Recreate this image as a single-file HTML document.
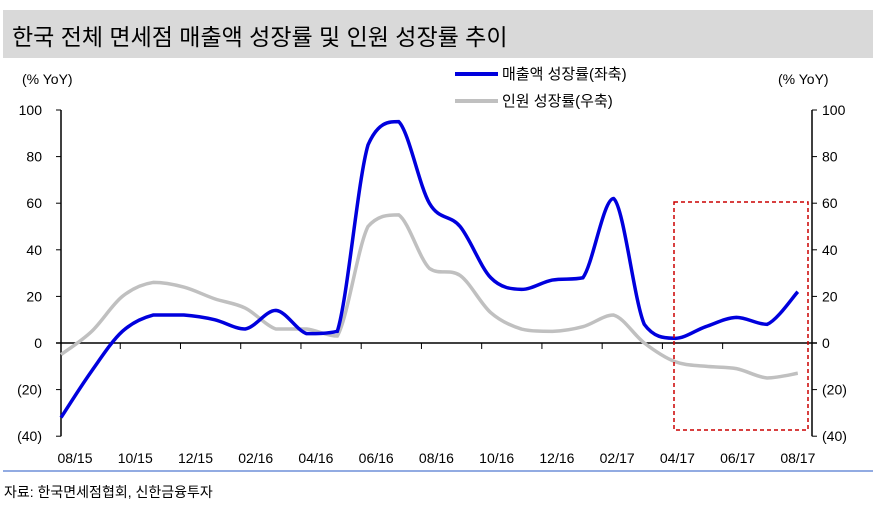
<!DOCTYPE html>
<html><head><meta charset="utf-8"><style>
body{margin:0;background:#fff;width:876px;height:506px;overflow:hidden;font-family:"Liberation Sans","Noto Sans CJK KR",sans-serif;}
</style></head><body>
<svg width="876" height="506" style="position:absolute;left:0;top:0;font-family:'Liberation Sans','Noto Sans CJK KR',sans-serif">
<rect x="3" y="10" width="870" height="48" fill="#d9d9d9"/>
<text x="12" y="45" font-size="23" fill="#000">한국 전체 면세점 매출액 성장률 및 인원 성장률 추이</text>
<text x="22" y="84" font-size="14">(% YoY)</text>
<text x="778" y="84" font-size="14">(% YoY)</text>
<line x1="455" y1="74" x2="498" y2="74" stroke="#0000dd" stroke-width="4"/>
<text x="502" y="79" font-size="15">매출액 성장률(좌축)</text>
<line x1="455" y1="101" x2="498" y2="101" stroke="#c0c0c0" stroke-width="4"/>
<text x="502" y="106" font-size="15">인원 성장률(우축)</text>
<g id="axes"></g>
<g id="series"></g>
<rect x="674" y="202" width="134" height="228" fill="none" stroke="#cc0000" stroke-width="1.5" stroke-dasharray="4,3"/>
<line x1="3" y1="471" x2="873" y2="471" stroke="#6f8fd8" stroke-width="1.5"/>
<text x="4" y="497" font-size="14">자료: 한국면세점협회, 신한금융투자</text>
</svg>
<script>
const months=["08/15","09/15","10/15","11/15","12/15","01/16","02/16","03/16","04/16","05/16","06/16","07/16","08/16","09/16","10/16","11/16","12/16","01/17","02/17","03/17","04/17","05/17","06/17","07/17","08/17"];
const salesGrowth=[-32,-12,5,12,12,10,6,14,4,5,85,95,60,50,28,23,27,28,62,8,2,7,11,8,22];
const visitorGrowth=[-5,5,20,26,24,19,15,6,6,3,50,55,32,29,13,6,5,7,12,0,-8,-10,-11,-15,-13];
const yTicks=[100,80,60,40,20,0,-20,-40];
const yTickLabels=["100","80","60","40","20","0","(20)","(40)"];
const NS="http://www.w3.org/2000/svg";
const x=i=>61+i*30.7;
const y=v=>343-v*2.33;
const lx=i=>75+i*30.12;
function el(t,a,p){const e=document.createElementNS(NS,t);for(const k in a)e.setAttribute(k,a[k]);p.appendChild(e);return e;}
const ax=document.getElementById('axes'),se=document.getElementById('series');
let e=el('line',{x1:61,y1:y(100),x2:61,y2:y(-40),stroke:'#000','stroke-width':1.5},ax);


e=el('line',{x1:812,y1:y(100),x2:812,y2:y(-40),stroke:'#000','stroke-width':1.5},ax);


e=el('line',{x1:56,y1:y(0),x2:817,y2:y(0),stroke:'#000','stroke-width':1.5},ax);


yTicks.forEach((v,i)=>{
 el('line',{x1:56,y1:y(v),x2:61,y2:y(v),stroke:'#000'},ax);
 el('line',{x1:812,y1:y(v),x2:817,y2:y(v),stroke:'#000'},ax);
 let t=el('text',{x:42,y:y(v)+5,'font-size':14,'text-anchor':'end'},ax);t.textContent=yTickLabels[i];
 
 
 t=el('text',{x:822,y:y(v)+5,'font-size':14},ax);t.textContent=yTickLabels[i];
 
 
});
months.forEach((m,i)=>{
 if(i%2==0){
  if(i>0&&i<24) el('line',{x1:lx(i)-15,y1:y(0),x2:lx(i)-15,y2:y(0)+6,stroke:'#000'},ax);
  const t=el('text',{x:lx(i),y:463,'font-size':14,'text-anchor':'middle'},ax);t.textContent=m;
  
  
 }
});
function clamp(v,a,b){const lo=Math.min(a,b),hi=Math.max(a,b);return Math.max(lo,Math.min(hi,v));}
function path(vals){
 const p=vals.map((v,i)=>[x(i),y(v)]);
 let d=`M${p[0][0]},${p[0][1]}`;
 for(let i=0;i<p.length-1;i++){
  const p0=p[Math.max(0,i-1)],p1=p[i],p2=p[i+1],p3=p[Math.min(p.length-1,i+2)];
  const c1y=clamp(p1[1]+(p2[1]-p0[1])/6,p1[1],p2[1]);
  const c2y=clamp(p2[1]-(p3[1]-p1[1])/6,p1[1],p2[1]);
  d+=` C${p1[0]+(p2[0]-p0[0])/6},${c1y} ${p2[0]-(p3[0]-p1[0])/6},${c2y} ${p2[0]},${p2[1]}`;
 }
 return d;
}
e=el('path',{d:path(visitorGrowth),fill:'none',stroke:'#c0c0c0','stroke-width':3.5},se);


e=el('path',{d:path(salesGrowth),fill:'none',stroke:'#0000dd','stroke-width':3.5},se);


</script>
</body></html>
